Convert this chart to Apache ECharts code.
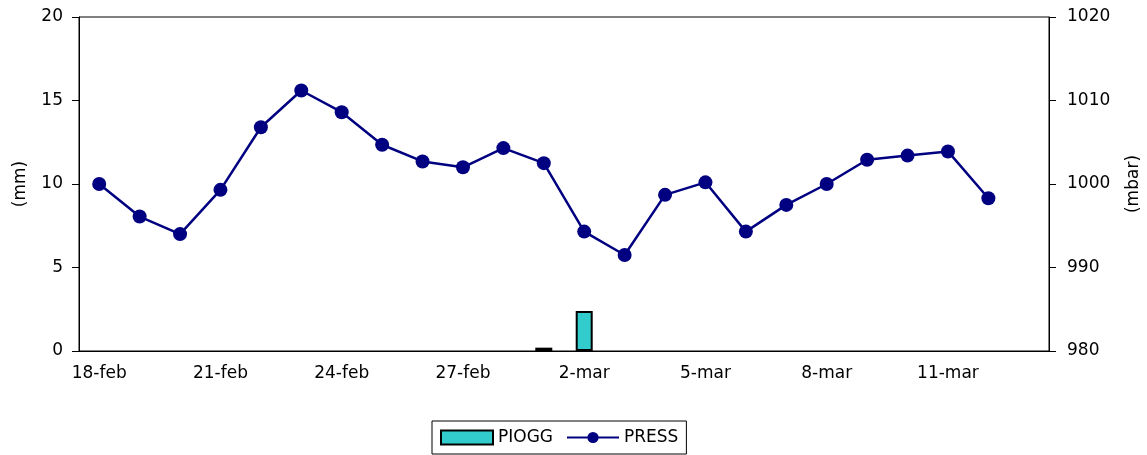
<!DOCTYPE html>
<html><head><meta charset="utf-8">
<script src="https://cdn.jsdelivr.net/npm/echarts@6/dist/echarts.min.js"></script>
<style>html,body{margin:0;padding:0;background:#fff}#c{width:1147px;height:455px}</style>
</head><body><div id="c"></div>
<script>
const categories = ['18-feb','19-feb','20-feb','21-feb','22-feb','23-feb','24-feb','25-feb','26-feb','27-feb','28-feb',
  '1-mar','2-mar','3-mar','4-mar','5-mar','6-mar','7-mar','8-mar','9-mar','10-mar','11-mar','12-mar','13-mar'];
const piogg = [null,null,null,null,null,null,null,null,null,null,null,0.2,2.4,null,null,null,null,null,null,null,null,null,null,null];
const press = [1000.0,996.1,994.0,999.3,1006.8,1011.2,1008.6,1004.7,1002.7,1002.0,1004.3,1002.5,994.3,991.5,998.7,1000.2,994.3,997.5,1000.0,1002.9,1003.4,1003.9,998.3,null];
const font = 'DejaVu Sans';
const chart = echarts.init(document.getElementById('c'));
chart.setOption({
  animation: false,
  textStyle: {fontFamily: font},
  grid: {left: 79, right: 98, top: 17, bottom: 104, show: true, borderColor: '#000', borderWidth: 1,
         containLabel: false, outerBoundsMode: 'none'},
  legend: {
    left: 432, top: 421, padding: [8, 8, 8, 8], itemGap: 13,
    borderColor: '#000', borderWidth: 1,
    itemWidth: 52, itemHeight: 14,
    textStyle: {fontSize: 17, color: '#000', fontFamily: font},
    data: [{name: 'PIOGG', icon: 'rect'}, {name: 'PRESS'}]
  },
  xAxis: {
    type: 'category', data: categories, boundaryGap: true,
    axisLine: {lineStyle: {color: '#000', width: 1}},
    axisTick: {interval: 2, length: 7, lineStyle: {color: '#000'}},
    axisLabel: {interval: 2, fontSize: 17, color: '#000', margin: 14, fontFamily: font}
  },
  yAxis: [{
    type: 'value', min: 0, max: 20, interval: 5, name: '(mm)', nameLocation: 'middle', nameGap: 50, nameRotate: 90,
    nameTextStyle: {fontSize: 17, color: '#000', fontFamily: font},
    axisLine: {show: true, lineStyle: {color: '#000'}},
    axisTick: {show: true, length: 7, lineStyle: {color: '#000'}},
    splitLine: {show: false},
    axisLabel: {fontSize: 17, color: '#000', margin: 16, fontFamily: font}
  }, {
    type: 'value', min: 980, max: 1020, interval: 10, name: '(mbar)', nameLocation: 'middle', nameGap: 76, nameRotate: 90,
    nameTextStyle: {fontSize: 17, color: '#000', fontFamily: font},
    axisLine: {show: true, lineStyle: {color: '#000'}},
    axisTick: {show: true, length: 7, lineStyle: {color: '#000'}},
    splitLine: {show: false},
    axisLabel: {fontSize: 17, color: '#000', margin: 18, fontFamily: font, formatter: v => String(v)}
  }],
  series: [{
    name: 'PIOGG', type: 'bar', yAxisIndex: 0, data: piogg, barWidth: 17,
    itemStyle: {color: '#33CCCC', borderColor: '#000', borderWidth: 2}
  }, {
    name: 'PRESS', type: 'line', yAxisIndex: 1, data: press,
    symbol: 'circle', symbolSize: 14,
    lineStyle: {color: '#000080', width: 2.5},
    itemStyle: {color: '#000080'}
  }]
});
</script></body></html>
